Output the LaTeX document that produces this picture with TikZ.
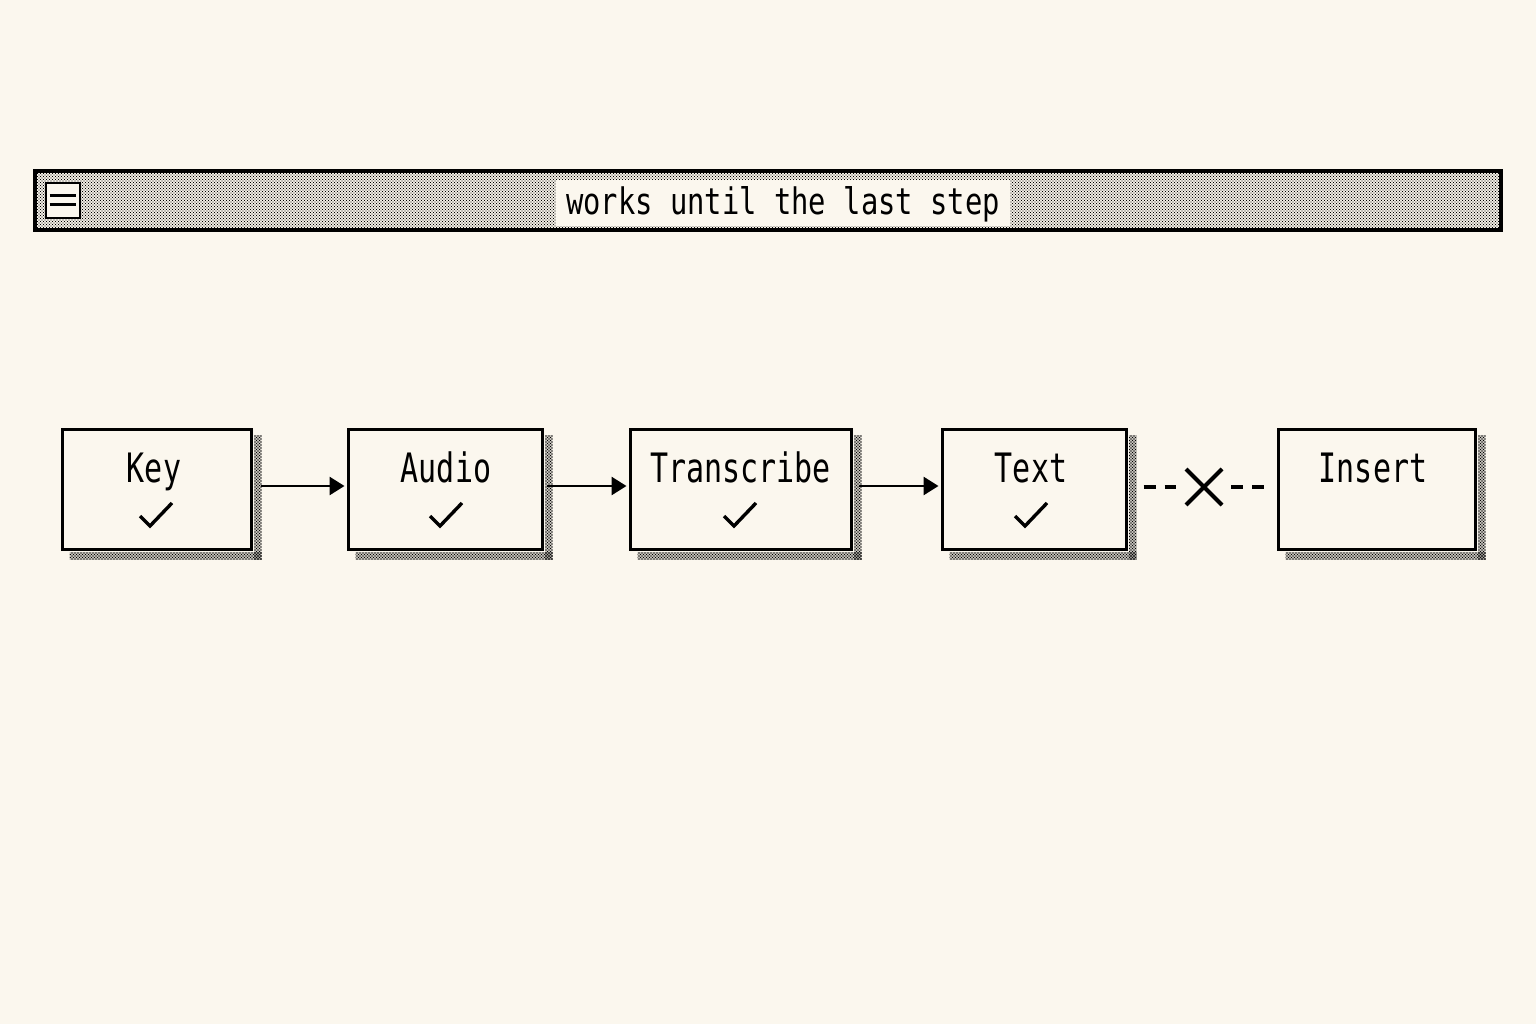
\documentclass[tikz,border=0pt]{standalone}
\usepackage{fontspec}
\setmonofont{DejaVu Sans Mono}
\usetikzlibrary{patterns,calc,arrows.meta}
\definecolor{bg}{HTML}{FBF7EE}
\pgfdeclarepatternformonly{dotsdense}{\pgfqpoint{-1pt}{-1pt}}{\pgfqpoint{4pt}{4pt}}{\pgfqpoint{3pt}{3pt}}{%
  \pgfpathcircle{\pgfqpoint{0pt}{0pt}}{0.9pt}%
  \pgfpathcircle{\pgfqpoint{1.5pt}{1.5pt}}{0.9pt}%
  \pgfusepath{fill}}
\pgfdeclarepatternformonly{dotslight}{\pgfqpoint{-1pt}{-1pt}}{\pgfqpoint{4pt}{4pt}}{\pgfqpoint{3pt}{3pt}}{%
  \pgfpathcircle{\pgfqpoint{0pt}{0pt}}{0.62pt}%
  \pgfpathcircle{\pgfqpoint{1.5pt}{1.5pt}}{0.62pt}%
  \pgfusepath{fill}}
\newcommand{\tallbox}[2]{\scalebox{1}[#1]{#2}}
\begin{document}
\begin{tikzpicture}[x=1pt,y=-1pt,
  stepbox/.style={draw=black,line width=3pt,fill=bg,minimum width=#1,minimum height=120pt,inner sep=0pt},
  lbl/.style={font=\ttfamily\fontsize{30}{32}\selectfont,inner sep=0pt,anchor=base},
  shade/.style={pattern=dotsdense,pattern color=black},
  flow/.style={line width=2.8pt,-{Triangle[length=15pt,width=18pt]}},
  chk/.style={line width=3.4pt,line join=miter},
  dashline/.style={line width=3.6pt,dash pattern=on 12pt off 9pt}]
\fill[bg] (0,0) rectangle (1536,1024);
\useasboundingbox (0,0) rectangle (1536,1024);

% title bar
\node[draw=black,line width=3.2pt,pattern=dotslight,pattern color=black,minimum width=1466pt,minimum height=59pt,inner sep=0pt] (bar) at (768,200.5) {};
\node[draw=black,line width=2.8pt,fill=bg,minimum width=34pt,minimum height=35pt,inner sep=0pt] (menu) at (63,200.5) {};
\draw[line width=3pt] ($(menu.west)+(5,-4.5)$) -- ($(menu.east)+(-5,-4.5)$);
\draw[line width=3pt] ($(menu.west)+(5,4.5)$) -- ($(menu.east)+(-5,4.5)$);
\node[fill=bg,minimum width=454pt,minimum height=46pt,inner sep=0pt] (titlebg) at (783,203) {};
\node[font=\ttfamily\fontsize{28.8}{30}\selectfont,inner sep=0pt,anchor=base] (title) at (783,215) {\tallbox{1.27}{works until the last step}};

% boxes
\node[stepbox=189pt] (key) at (156.5,489) {};
\node[stepbox=194pt] (audio) at (445,489) {};
\node[stepbox=221pt] (trans) at (740.5,489) {};
\node[stepbox=184pt] (text) at (1034,489) {};
\node[stepbox=197pt] (insert) at (1376.5,489) {};

\foreach \n in {key,audio,trans,text,insert}{
  \fill[shade] ($(\n.north east)+(1.5,8)$) rectangle ($(\n.south east)+(9,9)$);
  \fill[shade] ($(\n.south west)+(9,1.5)$) rectangle ($(\n.south east)+(9,9)$);
}

% labels
\node[lbl] (keyl) at (154,482) {\tallbox{1.35}{Key}};
\node[lbl] (audiol) at (446,482) {\tallbox{1.35}{Audio}};
\node[lbl] (transl) at (740.5,482) {\tallbox{1.35}{Transcribe}};
\node[lbl] (textl) at (1031,482) {\tallbox{1.35}{Text}};
\node[lbl] (insertl) at (1373,482) {\tallbox{1.35}{Insert}};

% check marks
\foreach \cx in {156,446,740,1031}{
  \draw[chk] (\cx-16,516) -- (\cx-6,526) -- (\cx+16,503);
}

% arrows
\draw[flow] ($(key.east)+(8,-3)$) -- ($(audio.west)+(-2,-3)$);
\draw[flow] ($(audio.east)+(3,-3)$) -- ($(trans.west)+(-2,-3)$);
\draw[flow] ($(trans.east)+(6,-3)$) -- ($(text.west)+(-2,-3)$);

% broken link
\coordinate (xm) at (1204,487);
\draw[dashline] ($(text.east)+(16,-2)$) -- ($(xm)+(-28,0)$);
\draw[dashline] ($(xm)+(27,0)$) -- ($(insert.west)+(-12,-2)$);
\draw[line width=4pt] ($(xm)+(-18,-18)$) -- ($(xm)+(18,18)$);
\draw[line width=4pt] ($(xm)+(-18,18)$) -- ($(xm)+(18,-18)$);
\end{tikzpicture}
\end{document}
